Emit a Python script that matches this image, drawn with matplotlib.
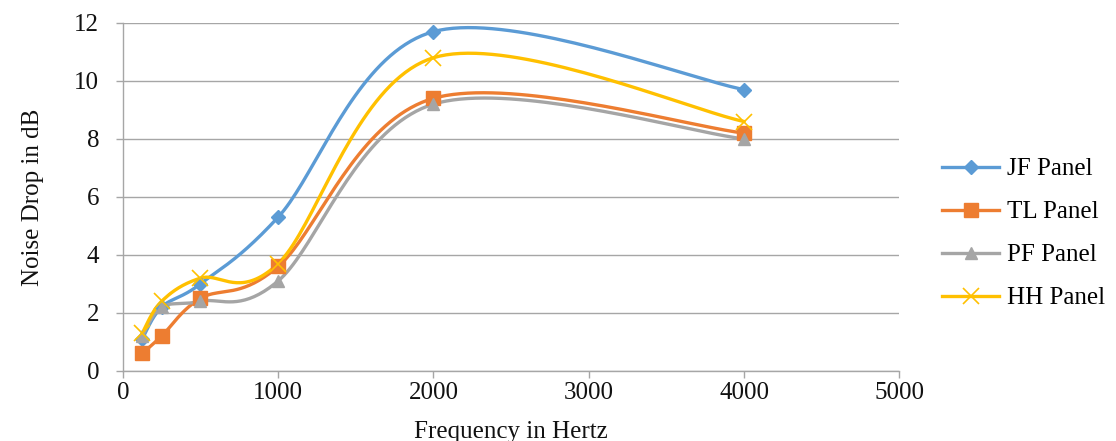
import numpy as np
import matplotlib
matplotlib.use("Agg")
import matplotlib.pyplot as plt
from matplotlib.lines import Line2D

freq = [125, 250, 500, 1000, 2000, 4000]
jf_panel = [1.1, 2.2, 3.0, 5.3, 11.7, 9.7]
tl_panel = [0.6, 1.2, 2.5, 3.6, 9.4, 8.2]
pf_panel = [1.2, 2.2, 2.4, 3.1, 9.2, 8.0]
hh_panel = [1.3, 2.4, 3.2, 3.7, 10.8, 8.6]

series_names = ["JF Panel", "TL Panel", "PF Panel", "HH Panel"]
series_vals = [jf_panel, tl_panel, pf_panel, hh_panel]
colors = ["#5B9BD5", "#ED7D31", "#A5A5A5", "#FFC000"]
markers = ["D", "s", "^", "x"]
msizes = [7.5, 10, 9, 11]

x_ticks = [0, 1000, 2000, 3000, 4000, 5000]
y_ticks = [0, 2, 4, 6, 8, 10, 12]


def excel_smooth(x, y, n=40):
    # Bezier segments with control points like Excel's smoothed line
    x = np.asarray(x, float)
    y = np.asarray(y, float)
    px = np.concatenate([[x[0]], x, [x[-1]]])
    py = np.concatenate([[y[0]], y, [y[-1]]])
    ox, oy = [], []
    t = np.linspace(0, 1, n)
    for i in range(1, len(px) - 2):
        p0 = np.array([px[i], py[i]])
        p3 = np.array([px[i + 1], py[i + 1]])
        c1 = p0 + (np.array([px[i + 1], py[i + 1]]) - np.array([px[i - 1], py[i - 1]])) / 6
        c2 = p3 - (np.array([px[i + 2], py[i + 2]]) - p0) / 6
        b = ((1 - t) ** 3)[:, None] * p0 + (3 * (1 - t) ** 2 * t)[:, None] * c1 \
            + (3 * (1 - t) * t ** 2)[:, None] * c2 + (t ** 3)[:, None] * p3
        ox.extend(b[:, 0])
        oy.extend(b[:, 1])
    return np.array(ox), np.array(oy)


plt.rcParams["font.family"] = ["Liberation Serif", "DejaVu Serif"]

fig = plt.figure(figsize=(11.16, 4.41), dpi=100)
ax = fig.add_axes([0.110, 0.159, 0.696, 0.789])

handles = []
for name, vals, c, m, ms in zip(series_names, series_vals, colors, markers, msizes):
    sx, sy = excel_smooth(freq, vals)
    ax.plot(sx, sy, color=c, lw=2.4, zorder=3, solid_capstyle="round")
    if m == "x":
        ax.plot(freq, vals, ls="none", marker=m, ms=ms, mec=c, mew=1.2, zorder=4)
    else:
        ax.plot(freq, vals, ls="none", marker=m, ms=ms, mfc=c, mec=c, zorder=4)
    handles.append(Line2D([0], [0], color=c, lw=2.4, marker=m, ms=ms,
                          mfc=c, mec=c, mew=1.2 if m == "x" else 1.0))

ax.set_xlim(0, 5000)
ax.set_ylim(0, 12)
ax.set_xticks(x_ticks)
ax.set_yticks(y_ticks)
ax.yaxis.grid(True, color="#A6A6A6", lw=1.0)
ax.set_axisbelow(True)
for s in ["top", "right"]:
    ax.spines[s].set_visible(False)
for s in ["left", "bottom"]:
    ax.spines[s].set_color("#A6A6A6")
    ax.spines[s].set_linewidth(1.0)
ax.tick_params(axis="both", colors="#A6A6A6", labelcolor="#111111",
               labelsize=18, length=5, width=1.0, direction="out")
ax.tick_params(axis="y", pad=12)
ax.tick_params(axis="x", pad=3)

ax.set_xlabel("Frequency in Hertz", fontsize=18, color="#111111", labelpad=12)
ax.set_ylabel("Noise Drop in dB", fontsize=18, color="#111111", labelpad=22)

fig.legend(handles, series_names, loc="center left", bbox_to_anchor=(0.835, 0.47),
           frameon=False, fontsize=18, handlelength=2.3, labelspacing=0.82,
           handletextpad=0.3, borderaxespad=0)

fig.savefig("out.png", dpi=100)
